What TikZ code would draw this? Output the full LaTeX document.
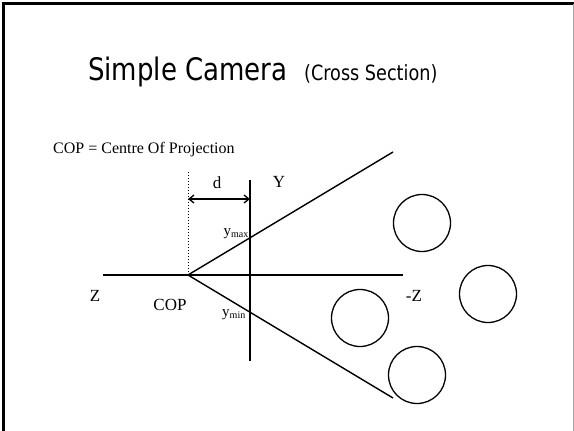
\documentclass[tikz,border=0pt]{standalone}
\usepackage{fontspec}
\setmainfont{Liberation Serif}
\newfontfamily\titlefont{DejaVu Sans}
\usetikzlibrary{arrows.meta,positioning}

\begin{document}
\begin{tikzpicture}[
  x=1pt, y=-1pt,
  axis/.style={line width=1.5pt},
  ray/.style={line width=1.4pt},
  obj/.style={draw, circle, line width=1.3pt, minimum size=57pt, inner sep=0pt},
  lbl/.style={inner sep=0pt, font=\fontsize{17}{19}\selectfont},
  dim/.style={{Straight Barb[length=5pt,width=8pt]}-{Straight Barb[length=5pt,width=8pt]}, line width=1.3pt}
]
\useasboundingbox (0,0) rectangle (574,431);

% slide frame
\draw[line width=3pt] (3.5,431) -- (3.5,3.5) -- (574,3.5);
\draw[gray!70, line width=1pt] (573,3.5) -- (573,431);

% title and caption
\node[anchor=base west, inner sep=0pt] (title) at (88,81)
  {\titlefont\scalebox{0.84}[1]{\fontsize{31}{36}\selectfont Simple Camera\ \ \fontsize{21}{24}\selectfont(Cross Section)}};
\node[anchor=base west, inner sep=0pt, font=\fontsize{16}{18}\selectfont] (caption) at (53,153)
  {COP = Centre Of Projection};

% geometry
\coordinate (cop) at (188,275);
\coordinate (zl) at (103,275);
\coordinate (zr) at (403,275);
\coordinate (ptop) at (250,180);
\coordinate (pbot) at (250,361);
\coordinate (dtop) at (188,172);
\coordinate (rtop) at (393,152);
\coordinate (rbot) at (393,398);
\coordinate (da) at (188,199);
\coordinate (db) at (250,199);

\draw[axis] (zl) -- (zr);
\draw[axis] (ptop) -- (pbot);
\draw[dotted, line width=1pt] (dtop) -- (cop);
\draw[ray] (cop) -- (rtop);
\draw[ray] (cop) -- (rbot);
\draw[dim] (da) -- (db);

% labels
\node[lbl] (d) at (217,183) {d};
\node[lbl] (Y) at (279,182) {Y};
\node[lbl] (Z) at (95,296) {Z};
\node[lbl] (mZ) at (414,296) {-Z};
\node[lbl] (COP) at (170,305) {COP};
\node[lbl, anchor=east, font=\fontsize{15}{17}\selectfont] (ymax) at (249,234) {y\textsubscript{\fontsize{10}{11}\selectfont max}};
\node[lbl, anchor=east, font=\fontsize{15}{17}\selectfont] (ymin) at (246,315) {y\textsubscript{\fontsize{10}{11}\selectfont min}};

% objects in the scene
\node[obj] (o1) at (422,223) {};
\node[obj] (o2) at (488,294) {};
\node[obj] (o3) at (360,318) {};
\node[obj] (o4) at (417,375) {};
\end{tikzpicture}
\end{document}
